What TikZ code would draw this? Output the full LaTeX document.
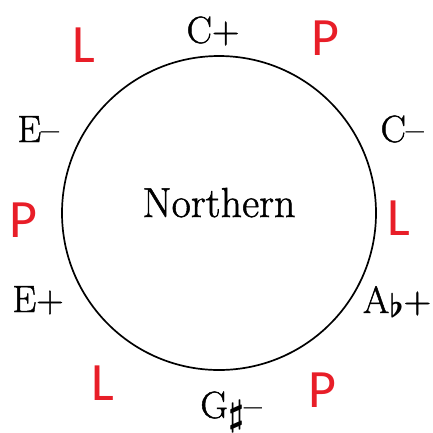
\documentclass[tikz,border=0pt]{standalone}
\usepackage{fontspec}
\newfontfamily\redf{Carlito}
\newfontfamily\chf{Latin Modern Roman}[Ligatures=TeX,FakeBold=1.2]
\definecolor{annred}{RGB}{232,30,40}
\newcommand{\myflat}{\raisebox{-0.12em}{\scalebox{1.3}{\boldmath$\flat$}}}
\newcommand{\mysharp}{\raisebox{-0.2em}{\scalebox{1.45}{\boldmath$\sharp$}}}
\begin{document}
\begin{tikzpicture}[x=1pt,y=-1pt,
  chord/.style={anchor=base,inner sep=0pt,font=\chf\fontsize{38}{42}\selectfont},
  title/.style={anchor=base,inner sep=0pt,font=\chf\fontsize{42}{46}\selectfont},
  op/.style={anchor=base,inner sep=0pt,text=annred,font=\redf\fontsize{54}{58}\selectfont}]
\useasboundingbox (0,0) rectangle (433,432);
\node[draw,circle,line width=1.7pt,minimum size=314pt,inner sep=0pt] (c) at (219,213) {};
\node[title] (n) at (219,217) {Northern};
\node[chord] (cp) at (213,43) {C+};
\node[chord] (cm) at (402,142) {C–};
\node[chord] (em) at (38,142) {E–};
\node[chord] (ep) at (38,312) {E+};
\node[chord] (ab) at (397,313) {A\myflat+};
\node[chord] (gs) at (231,418) {G\mysharp–};
\node[op] (l1) at (84,62) {L};
\node[op] (p1) at (325,55) {P};
\node[op] (p2) at (23,237) {P};
\node[op] (l2) at (399,235) {L};
\node[op] (l3) at (103,400) {L};
\node[op] (p3) at (322,407) {P};
\end{tikzpicture}
\end{document}
